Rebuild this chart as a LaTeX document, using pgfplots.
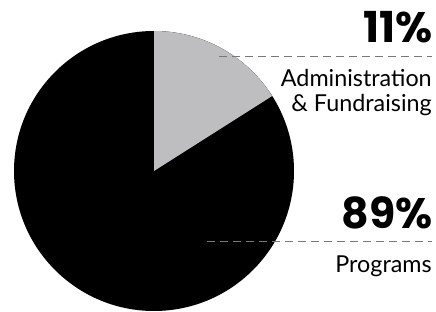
\documentclass[border=0pt]{standalone}
\usepackage{pgfplots}
\pgfplotsset{compat=1.18}
\usepackage{pgfplotstable}
\usepackage{fontspec}
\setmainfont{Lato}
\newfontfamily\pctfont{Poppins}
\definecolor{slicegray}{RGB}{190,190,192}
\definecolor{dashgray}{RGB}{120,120,120}
% slice angles as drawn (start, end, in degrees, clockwise from 90)
\pgfplotstableread{
name start end
admin 90 32.4
prog 32.4 -270
}\slices
\pgfplotstablegetelem{0}{end}\of\slices\let\adminEnd\pgfplotsretval
\begin{document}
\begin{tikzpicture}
\begin{axis}[
  scale only axis, width=327pt, height=233.25pt,
  xmin=0, xmax=436, ymin=0, ymax=311,
  hide axis, clip=false,
]
\addplot[draw=none, forget plot] coordinates {(0,0) (436,311)};
% pie: centre (154,140), radius 140 px = 105 pt
\fill[black] (axis cs:154,140) circle[radius=105pt];
\fill[slicegray] (axis cs:154,140) -- ++(90:105pt) arc[start angle=90, end angle=\adminEnd, radius=105pt] -- cycle;
% leader lines
\draw[dashgray, line width=0.75pt, dash pattern=on 6pt off 3.75pt] (axis cs:219,254) -- (axis cs:432,254);
\draw[dashgray, line width=0.75pt, dash pattern=on 6pt off 3.75pt] (axis cs:207,69) -- (axis cs:432,69);
% labels
\node[anchor=base east, inner sep=0pt, font=\pctfont\bfseries\fontsize{32}{32}\selectfont] at (axis cs:433,268) {11\%};
\node[anchor=base east, inner sep=0pt, font=\fontsize{17.5}{20}\selectfont] at (axis cs:432,224) {Administration};
\node[anchor=base east, inner sep=0pt, font=\fontsize{17.5}{20}\selectfont] at (axis cs:432,199) {\& Fundraising};
\node[anchor=base east, inner sep=0pt, font=\pctfont\bfseries\fontsize{32}{32}\selectfont] at (axis cs:433,82) {89\%};
\node[anchor=base east, inner sep=0pt, font=\fontsize{17.5}{20}\selectfont] at (axis cs:432,39) {Programs};
\end{axis}
\end{tikzpicture}
\end{document}
